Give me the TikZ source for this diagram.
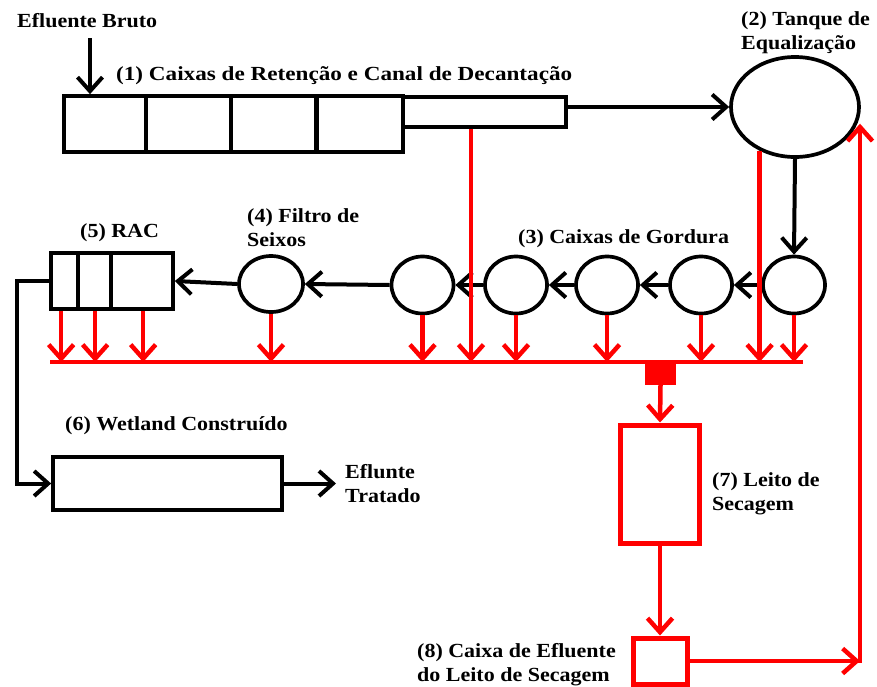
\documentclass[tikz,border=0pt]{standalone}
\usepackage{fontspec}
\setmainfont{Liberation Serif}[FakeStretch=1.1]
\newfontfamily\widelbl{Liberation Serif}[FakeStretch=1.158]
\usetikzlibrary{arrows.meta,shapes.geometric,calc}
\tikzset{
  lbl/.style={font=\fontsize{20}{24}\selectfont\bfseries, inner sep=0pt},
  lbltwo/.style={lbl, align=left},
  blk/.style={line width=4pt, black},
  blkarr/.style={blk, -{Straight Barb[length=14pt,width=25pt]}},
  redl/.style={line width=4.5pt, red},
  redarr/.style={redl, -{Straight Barb[length=14pt,width=25pt]}},
  bbox/.style={draw, line width=3.7pt, rectangle, inner sep=0pt},
  circ/.style={draw, line width=3.7pt, ellipse, inner sep=0pt, minimum width=62pt, minimum height=57pt},
  rbox/.style={draw=red, line width=5pt, rectangle, inner sep=0pt},
  divider/.style={line width=3.5pt, black},
}
\begin{document}
\begin{tikzpicture}[x=1pt,y=-1pt]
\useasboundingbox (0,0) rectangle (877,686);

% ---- main units ----
\node[bbox, minimum width=339pt, minimum height=56pt] (box1) at (233.5,124) {};
\node[bbox, minimum width=163pt, minimum height=30pt] (canal) at (484.5,112) {};
\draw[divider] ([xshift=84pt]box1.north west) -- ([xshift=84pt]box1.south west);
\draw[divider] ([xshift=169pt]box1.north west) -- ([xshift=169pt]box1.south west);
\draw[divider, line width=5pt] ([xshift=254pt]box1.north west) -- ([xshift=254pt]box1.south west);

\node[draw, ellipse, line width=3.7pt, minimum width=128pt, minimum height=100pt, inner sep=0pt] (tank) at (795,107) {};

\node[circ] (g5) at (794,285) {};
\node[circ] (g4) at (701,285) {};
\node[circ] (g3) at (607,285) {};
\node[circ] (g2) at (516,285) {};
\node[circ] (g1) at (422.5,285) {};
\node[circ, minimum width=64pt, minimum height=56pt] (filt) at (271,284) {};

\node[bbox, minimum width=122pt, minimum height=56pt] (rac) at (112,281) {};
\draw[divider] ([xshift=29pt]rac.north west) -- ([xshift=29pt]rac.south west);
\draw[divider] ([xshift=62pt]rac.north west) -- ([xshift=62pt]rac.south west);

\node[bbox, minimum width=229pt, minimum height=53pt] (wet) at (167.5,483.5) {};

\node[rbox, minimum width=79pt, minimum height=118pt] (bed) at (660,484) {};
\node[rbox, minimum width=54pt, minimum height=46pt] (cx8) at (660,661) {};
\node[fill=red, inner sep=0pt, minimum width=31pt, minimum height=22pt] (junc) at (660.5,374) {};

% ---- coordinates ----
\coordinate (inTop) at (90,38);
\coordinate (barL) at (50,362);
\coordinate (barR) at (803,362);
\coordinate (bend) at (17,281);
\coordinate (effOut) at (336,483.5);
\coordinate (corner) at (860,661);
\coordinate (cornerUp) at (860,663);
\coordinate (cd) at ([xshift=-13.5pt]canal.south);
\coordinate (r1) at ([xshift=12pt]rac.south west);
\coordinate (r2) at ([xshift=46pt]rac.south west);
\coordinate (r3) at ([xshift=94pt]rac.south west);

% ---- black flow ----
\draw[blkarr] (inTop) -- (inTop |- box1.north);
\draw[blkarr] (canal.east |- tank.west) -- (tank.west);
\draw[blkarr] (tank.south) -- (g5.north);
\draw[blkarr] (g5.west) -- (g4.east);
\draw[blkarr] (g4.west) -- (g3.east);
\draw[blkarr] (g3.west) -- (g2.east);
\draw[blkarr] (g2.west) -- (g1.east);
\draw[blkarr] (g1.west) -- (filt.east);
\draw[blkarr] (filt.west) -- (rac.east);
\draw[blkarr] (rac.west) -- (bend) |- (wet.west);
\draw[blkarr] (wet.east) -- (effOut);

% ---- sludge (red) ----
\draw[redl] (barL) -- (barR);
\foreach \n in {g1,g2,g3,g4,g5,filt} {
  \draw[redarr] (\n.south) -- (\n.south |- barL);
}
\foreach \n in {r1,r2,r3} {
  \draw[redarr] (\n) -- (\n |- barL);
}
\draw[redarr] (cd) -- (cd |- barL);
\draw[redarr] (tank.231) -- (tank.231 |- barL);
\draw[redarr] (junc.south) -- (bed.north);
\draw[redarr] (bed.south) -- (cx8.north);
\draw[redarr] (cx8.east) -- (corner);
\draw[redarr] (cornerUp) -- (cornerUp |- tank.-15);

% ---- labels ----
\node[lbl, anchor=base west] (lEB) at (17,27) {Efluente Bruto};
\node[lbl, font=\fontsize{20}{24}\selectfont\widelbl\bfseries, anchor=base west] (l1) at (116,80) {(1) Caixas de Retenção e Canal de Decantação};
\node[lbltwo, anchor=north west] (l2) at (741,11) {(2) Tanque de\\Equalização};
\node[lbltwo, anchor=north west] (l4) at (247,208) {(4) Filtro de\\Seixos};
\node[lbl, anchor=base west] (l5) at (80,237) {(5) RAC};
\node[lbl, anchor=base west] (l3) at (518,243) {(3) Caixas de Gordura};
\node[lbl, anchor=base west] (l6) at (65,430) {(6) Wetland Construído};
\node[lbltwo, anchor=north west] (lE) at (345,464) {Eflunte\\Tratado};
\node[lbltwo, anchor=north west] (l7) at (712,472) {(7) Leito de\\Secagem};
\node[lbltwo, anchor=north west] (l8) at (417,643) {(8) Caixa de Efluente\\do Leito de Secagem};
\end{tikzpicture}
\end{document}
